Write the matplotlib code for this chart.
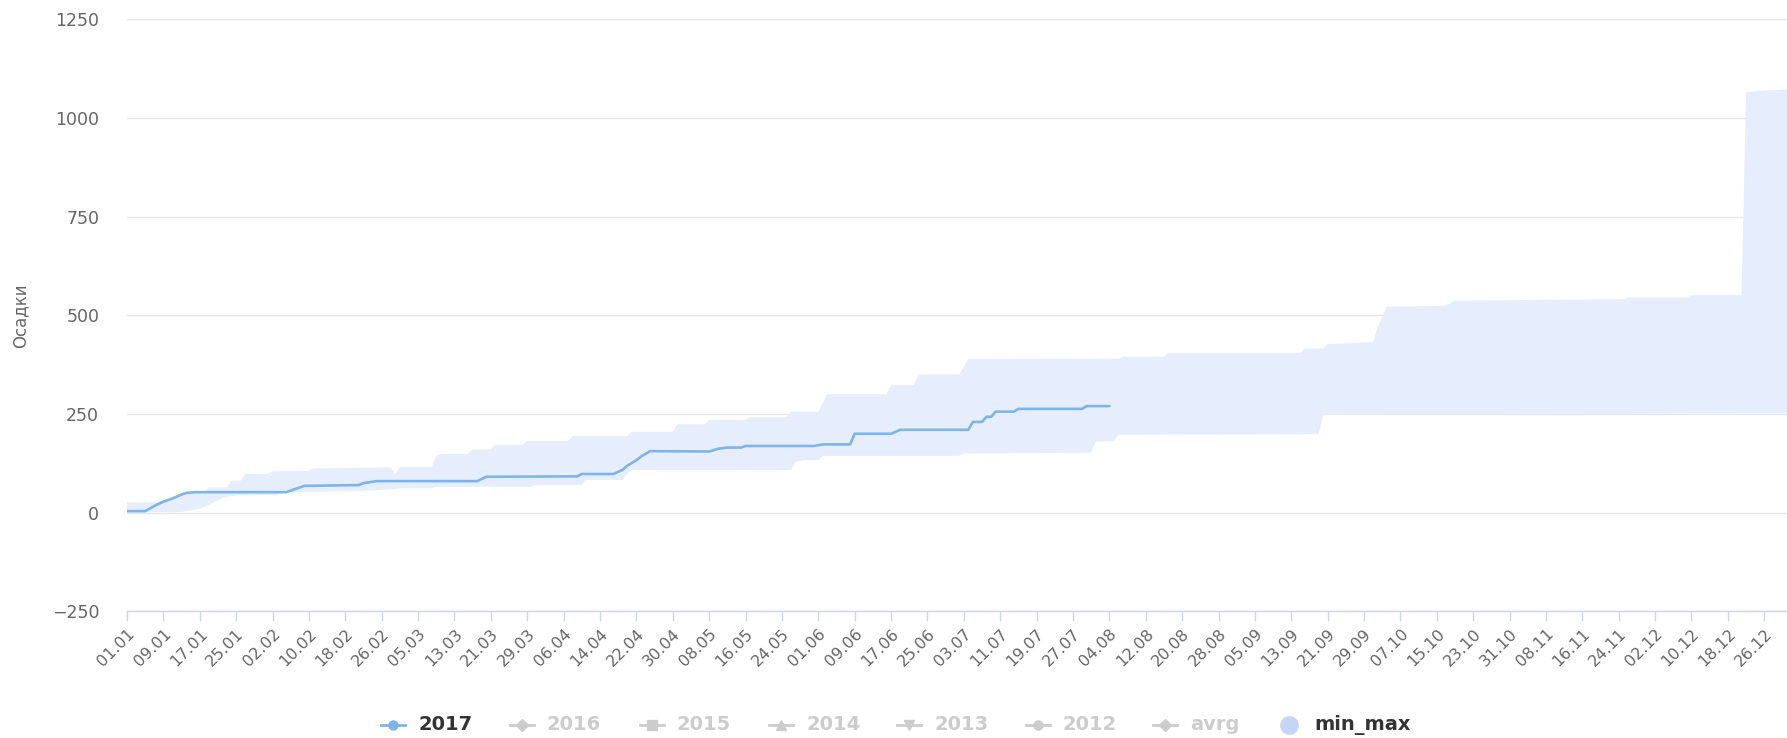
import matplotlib.pyplot as plt
from matplotlib.lines import Line2D

W, H = 1787, 738

# x axis: one category per day of a leap-year calendar, 0 = 01.01
tick_labels = ['01.01', '09.01', '17.01', '25.01', '02.02', '10.02', '18.02', '26.02',
               '05.03', '13.03', '21.03', '29.03', '06.04', '14.04', '22.04', '30.04',
               '08.05', '16.05', '24.05', '01.06', '09.06', '17.06', '25.06', '03.07',
               '11.07', '19.07', '27.07', '04.08', '12.08', '20.08', '28.08', '05.09',
               '13.09', '21.09', '29.09', '07.10', '15.10', '23.10', '31.10', '08.11',
               '16.11', '24.11', '02.12', '10.12', '18.12', '26.12']
tick_days = list(range(0, 361, 8))

# 2017 cumulative precipitation (day index, value)
days_2017 = [0, 4, 6, 8, 10, 12, 13, 15, 35, 37, 39, 51, 52, 55, 77, 79, 99, 100, 107,
             109, 110, 112, 113, 115, 128, 130, 132, 135, 136, 151, 153, 159, 160, 168,
             170, 185, 186, 188, 189, 190, 191, 195, 196, 210, 211, 216]
vals_2017 = [4, 4, 17, 28, 36, 46, 50, 52, 52, 60, 68, 70, 75, 80, 80, 91, 92, 98, 98,
             109, 119, 133, 142, 156, 155, 162, 165, 165, 169, 169, 173, 173, 200, 200,
             210, 210, 230, 230, 243, 243, 256, 256, 263, 263, 270, 270]

# min_max range: upper edge
days_max = [0, 4, 8, 10, 12, 13, 15, 17, 18, 22, 23, 25, 26, 31, 32, 40, 41, 58, 59, 60,
            67, 68, 69, 75, 76, 80, 81, 87, 88, 97, 98, 110, 111, 120, 121, 127, 128,
            136, 137, 145, 146, 152, 154, 167, 168, 173, 174, 183, 185, 218, 219, 228,
            229, 258, 259, 263, 264, 274, 275, 277, 290, 292, 329, 330, 343, 344, 355,
            356, 358, 365]
vals_max = [26, 26, 28, 36, 46, 50, 53, 55, 64, 64, 81, 81, 98, 98, 105, 106, 112, 115,
            98, 116, 116, 144, 149, 149, 160, 160, 172, 172, 182, 182, 194, 194, 205,
            205, 224, 224, 235, 235, 242, 242, 256, 256, 300, 300, 323, 323, 350, 350,
            389, 390, 395, 395, 405, 405, 416, 416, 427, 432, 470, 522, 524, 537, 541,
            545, 545, 551, 551, 1064, 1068, 1072]

# min_max range: lower edge
days_min = [0, 12, 16, 18, 21, 24, 33, 35, 51, 59, 60, 67, 68, 89, 90, 100, 101, 109,
            110, 111, 146, 147, 149, 152, 153, 183, 184, 212, 213, 217, 218, 262, 263, 365]
vals_min = [0, 2, 10, 20, 38, 44, 45, 52, 55, 60, 62, 62, 66, 66, 70, 70, 83, 83, 100,
            108, 108, 129, 133, 133, 144, 144, 150, 152, 180, 182, 197, 199, 248, 252]

legend_names = ['2017', '2016', '2015', '2014', '2013', '2012', 'avrg', 'min_max']
legend_markers = ['o', 'D', 's', '^', 'v', 'o', 'D', 'o']

line_color = '#7cb5ec'
area_color = '#e6edfc'
grey = '#666666'

fig = plt.figure(figsize=(W / 100, H / 100), dpi=100)
ax = fig.add_axes([127 / W, 126.6 / H, 1660 / W, 592.2 / H])

ax.fill(days_max + days_min[::-1], vals_max + vals_min[::-1],
        color=area_color, lw=0, zorder=2)
ax.plot(days_2017, vals_2017, color=line_color, lw=1.9,
        solid_joinstyle='round', solid_capstyle='round', zorder=3)

ax.set_xlim(0, 365)
ax.set_ylim(-250, 1250)
ax.set_yticks(range(-250, 1251, 250))
ax.grid(axis='y', color='#e6e6e6', lw=1)
ax.set_axisbelow(True)
for s in ['top', 'right', 'left']:
    ax.spines[s].set_visible(False)
ax.spines['bottom'].set_color('#ccd6eb')
ax.spines['bottom'].set_linewidth(1)

ax.set_xticks(tick_days)
ax.set_xticklabels(tick_labels, rotation=45, ha='right', rotation_mode='anchor')
ax.tick_params(axis='x', colors='#ccd6eb', length=7.5, width=1, pad=3,
               labelcolor=grey, labelsize=11.5)
ax.tick_params(axis='y', length=0, pad=20, labelcolor=grey, labelsize=12.5)

fig.text(20 / W, 1 - 316 / H, 'Осадки', rotation=90, ha='center', va='center',
         color=grey, fontsize=12)

# legend row at the bottom
marker_x = [393, 522, 652, 781, 909, 1038, 1165, 1289]
ly = 1 - 725 / H
for i, name in enumerate(legend_names):
    active = name in ('2017', 'min_max')
    mx = marker_x[i]
    if name == 'min_max':
        fig.add_artist(Line2D([mx / W], [ly], marker='o', markersize=12.5, lw=0,
                              color='#c5d5f6', transform=fig.transFigure))
    else:
        c = line_color if active else '#cccccc'
        fig.add_artist(Line2D([(mx - 12) / W, (mx + 12) / W], [ly, ly], lw=2, color=c,
                              transform=fig.transFigure))
        fig.add_artist(Line2D([mx / W], [ly], lw=0, color=c, marker=legend_markers[i],
                              markersize=6.5, transform=fig.transFigure))
    fig.text((mx + 25) / W, ly, name, ha='left', va='center', fontsize=14,
             fontweight='bold', color='#333333' if active else '#cccccc')

fig.savefig('out.png', dpi=100)
